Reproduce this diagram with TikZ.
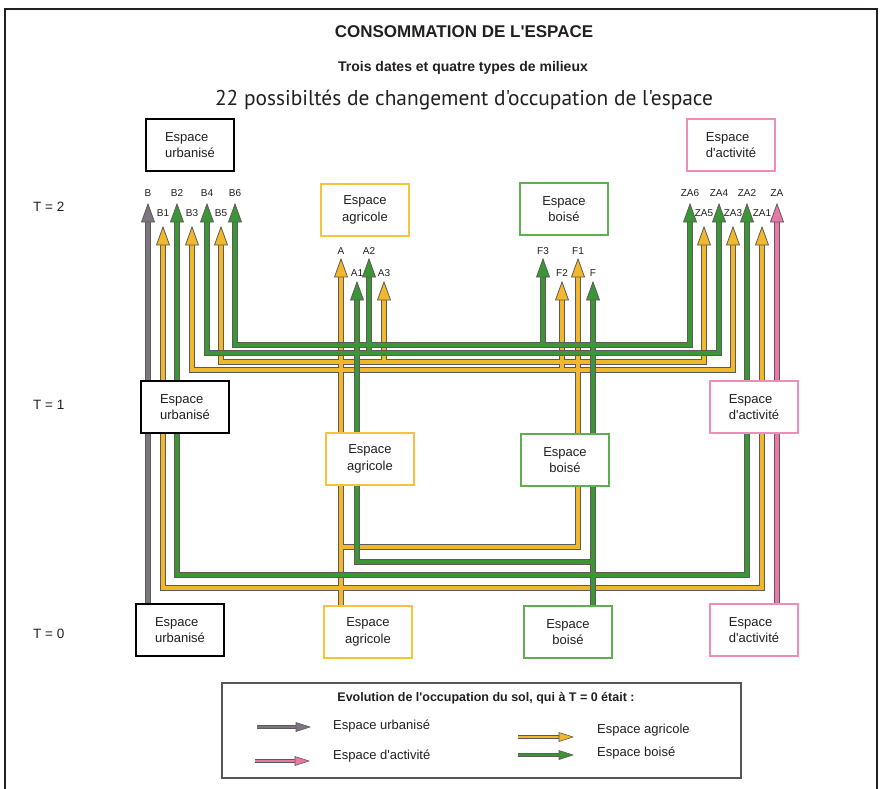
\documentclass[tikz,border=0pt]{standalone}
\usepackage{fontspec}
\setmainfont{Liberation Sans}[Ligatures=TeXOff]
\newfontfamily\humanist{PT Sans}[Ligatures=TeXOff]
\usetikzlibrary{positioning}

\definecolor{inkcol}{RGB}{35,31,32}
\definecolor{casecol}{RGB}{95,90,88}
\definecolor{flowyellow}{RGB}{240,184,42}
\definecolor{flowgreen}{RGB}{58,150,55}
\definecolor{flowgrey}{RGB}{125,117,130}
\definecolor{flowpink}{RGB}{232,120,165}
\definecolor{agriedge}{RGB}{245,196,60}
\definecolor{boisedge}{RGB}{95,175,80}
\definecolor{actedge}{RGB}{240,140,185}
\definecolor{legendedge}{RGB}{90,85,85}

\pgfdeclarelayer{paper}
\pgfdeclarelayer{flows}
\pgfsetlayers{paper,flows,main}

\tikzset{
  box/.style={draw, line width=2pt, fill=white, minimum width=88pt,
    minimum height=52pt, inner sep=0pt, text=inkcol,
    font=\fontsize{13}{16.5}\selectfont},
  urbbox/.style={box, draw=black, align=left},
  agribox/.style={box, draw=agriedge, align=center},
  boisbox/.style={box, draw=boisedge, align=center},
  actbox/.style={box, draw=actedge, align=left},
  pass case/.style={line width=6pt, draw=casecol, line join=miter, shorten >=12pt},
  pass fill/.style={line width=4pt, draw=#1, line join=miter, shorten >=12pt},
  leg case/.style={line width=4pt, draw=casecol, shorten >=10pt},
  leg fill/.style={line width=2.4pt, draw=#1, shorten >=10pt},
  tiplabel/.style={font=\fontsize{10}{12}\selectfont, text=inkcol, inner sep=0pt},
  timelabel/.style={font=\fontsize{13.5}{15}\selectfont, text=inkcol, anchor=west, inner sep=0pt},
  legtext/.style={font=\fontsize{13}{15}\selectfont, text=inkcol, anchor=west, inner sep=0pt},
}

% end point of a flow at T = 2: coordinate of the arrow tip and its label
\newcommand\tipmark[5]{\coordinate (t#1) at (#2,#3);
  \node[tiplabel] (l#1) at (#2,#4) {#5};}
% arrow head pointing up
\newcommand\uphead[2]{\filldraw[fill=#1, draw=casecol, line width=0.8pt, line join=miter]
  (#2) -- ++(-6.5,18) -- ++(13,0) -- cycle;}
% arrow head pointing right (legend)
\newcommand\righthead[2]{\filldraw[fill=#1, draw=casecol, line width=0.6pt, line join=miter]
  (#2) -- ++(-14,-4.5) -- ++(0,9) -- cycle;}

% land that was agricultural at T = 0
\newcommand\yellowflows[1]{%
  \draw[#1=flowyellow] (341,0 |- a0.north) |- (163,588) -- (tB1);
  \draw[#1=flowyellow] (341,0 |- a0.north) |- (762,588) -- (tZA1);
  \draw[#1=flowyellow] (341,0 |- a0.north) |- (578,547) -- (tF1);
  \draw[#1=flowyellow] (341,0 |- a0.north) -- (tA);
  \draw[#1=flowyellow] (341,0 |- a0.north) |- (562,370) -- (tF2);
  \draw[#1=flowyellow] (341,0 |- a0.north) |- (192,370) -- (tB3);
  \draw[#1=flowyellow] (341,0 |- a0.north) |- (733,370) -- (tZA3);
  \draw[#1=flowyellow] (341,0 |- a0.north) |- (578,547) |- (384,362) -- (tA3);
  \draw[#1=flowyellow] (341,0 |- a0.north) |- (578,547) |- (221,362) -- (tB5);
  \draw[#1=flowyellow] (341,0 |- a0.north) |- (578,547) |- (704,362) -- (tZA5);
}
% land that was wooded at T = 0
\newcommand\greenflows[1]{%
  \draw[#1=flowgreen] (593,0 |- f0.north) |- (177,575) -- (tB2);
  \draw[#1=flowgreen] (593,0 |- f0.north) |- (747,575) -- (tZA2);
  \draw[#1=flowgreen] (593,0 |- f0.north) |- (357,562) -- (tA1);
  \draw[#1=flowgreen] (593,0 |- f0.north) -- (tF);
  \draw[#1=flowgreen] (593,0 |- f0.north) |- (369,353) -- (tA2);
  \draw[#1=flowgreen] (593,0 |- f0.north) |- (207,353) -- (tB4);
  \draw[#1=flowgreen] (593,0 |- f0.north) |- (719,353) -- (tZA4);
  \draw[#1=flowgreen] (593,0 |- f0.north) |- (357,562) |- (543,345) -- (tF3);
  \draw[#1=flowgreen] (593,0 |- f0.north) |- (357,562) |- (235,345) -- (tB6);
  \draw[#1=flowgreen] (593,0 |- f0.north) |- (357,562) |- (690,345) -- (tZA6);
}
% urbanised and activity land never change
\newcommand\stableflows[1]{%
  \draw[#1=flowgrey] (148,0 |- u0.north) -- (tB);
  \draw[#1=flowpink] (777,0 |- z0.north) -- (tZA);
}

\begin{document}
\begin{tikzpicture}[x=1pt,y=-1pt]
\useasboundingbox (0,0) rectangle (880,789);
\begin{pgfonlayer}{paper}
  \fill[white] (0,0) rectangle (880,789);
\end{pgfonlayer}

% frame
\draw[line width=1.3pt, inkcol] (5,789) -- (5,9) -- (877,9) -- (877,789);

% headings
\node[font=\bfseries\fontsize{17}{19}\selectfont, text=inkcol] (title) at (464,32) {CONSOMMATION DE L'ESPACE};
\node[font=\bfseries\fontsize{14}{16}\selectfont, text=inkcol] (subtitle) at (463,68) {Trois dates et quatre types de milieux};
\node[font=\humanist\fontsize{21.4}{24}\selectfont, text=inkcol] (count) at (464,100) {22 possibiltés de changement d'occupation de l'espace};

% time steps
\node[timelabel] (time2) at (33,207) {T = 2};
\node[timelabel] (time1) at (33,405) {T = 1};
\node[timelabel] (time0) at (33,634) {T = 0};

% T = 2
\node[urbbox]  (u2) at (190,145) {Espace\\urbanisé};
\node[agribox] (a2) at (365,210) {Espace\\agricole};
\node[boisbox] (f2) at (564,209) {Espace\\boisé};
\node[actbox]  (z2) at (731,145) {Espace\\d'activité};
% T = 1
\node[urbbox]  (u1) at (185,407) {Espace\\urbanisé};
\node[agribox] (a1) at (370,459) {Espace\\agricole};
\node[boisbox] (f1) at (565,460) {Espace\\boisé};
\node[actbox]  (z1) at (754,407) {Espace\\d'activité};
% T = 0
\node[urbbox]  (u0) at (180,630) {Espace\\urbanisé};
\node[agribox] (a0) at (368,632) {Espace\\agricole};
\node[boisbox] (f0) at (568,632) {Espace\\boisé};
\node[actbox]  (z0) at (754,630) {Espace\\d'activité};

% arrow tips at T = 2 with their labels
\tipmark{B}{148}{204}{193}{B}
\tipmark{B1}{163}{227}{213}{B1}
\tipmark{B2}{177}{204}{193}{B2}
\tipmark{B3}{192}{227}{213}{B3}
\tipmark{B4}{207}{204}{193}{B4}
\tipmark{B5}{221}{227}{213}{B5}
\tipmark{B6}{235}{204}{193}{B6}
\tipmark{A}{341}{259}{251}{A}
\tipmark{A1}{357}{282}{273}{A1}
\tipmark{A2}{369}{259}{251}{A2}
\tipmark{A3}{384}{282}{273}{A3}
\tipmark{F3}{543}{259}{251}{F3}
\tipmark{F2}{562}{282}{273}{F2}
\tipmark{F1}{578}{259}{251}{F1}
\tipmark{F}{593}{282}{273}{F}
\tipmark{ZA6}{690}{204}{193}{ZA6}
\tipmark{ZA5}{704}{227}{213}{ZA5}
\tipmark{ZA4}{719}{204}{193}{ZA4}
\tipmark{ZA3}{733}{227}{213}{ZA3}
\tipmark{ZA2}{747}{204}{193}{ZA2}
\tipmark{ZA1}{762}{227}{213}{ZA1}
\tipmark{ZA}{777}{204}{193}{ZA}

\begin{pgfonlayer}{flows}
  \yellowflows{pass case}
  \yellowflows{pass fill}
  \greenflows{pass case}
  \greenflows{pass fill}
  \stableflows{pass case}
  \stableflows{pass fill}
  \foreach \n/\c in {B/flowgrey, ZA/flowpink,
      B1/flowyellow, B3/flowyellow, B5/flowyellow, A/flowyellow, A3/flowyellow,
      F1/flowyellow, F2/flowyellow, ZA1/flowyellow, ZA3/flowyellow, ZA5/flowyellow,
      B2/flowgreen, B4/flowgreen, B6/flowgreen, A1/flowgreen, A2/flowgreen,
      F3/flowgreen, F/flowgreen, ZA2/flowgreen, ZA4/flowgreen, ZA6/flowgreen}
    {\uphead{\c}{t\n}}
\end{pgfonlayer}

% legend
\node[draw=legendedge, line width=1.2pt, minimum width=519pt, minimum height=95pt, inner sep=0pt] (legend) at (481.5,730.5) {};
\node[font=\bfseries\fontsize{12.5}{14}\selectfont, text=inkcol] (legtitle) at (486,698) {Evolution de l'occupation du sol, qui à T = 0 était :};

\coordinate (lgUa) at (257,727); \coordinate (lgUb) at (310,727);
\coordinate (lgZa) at (255,761); \coordinate (lgZb) at (309,761);
\coordinate (lgAa) at (518,737); \coordinate (lgAb) at (573,737);
\coordinate (lgFa) at (518,755); \coordinate (lgFb) at (573,755);
\foreach \s/\c in {U/flowgrey, Z/flowpink, A/flowyellow, F/flowgreen}{
  \draw[leg case] (lg\s a) -- (lg\s b);
  \draw[leg fill=\c] (lg\s a) -- (lg\s b);
  \righthead{\c}{lg\s b}
}
\node[legtext] (legU) at (333,726) {Espace urbanisé};
\node[legtext] (legZ) at (333,756) {Espace d'activité};
\node[legtext] (legA) at (597,730) {Espace agricole};
\node[legtext] (legF) at (597,753) {Espace boisé};
\end{tikzpicture}
\end{document}
